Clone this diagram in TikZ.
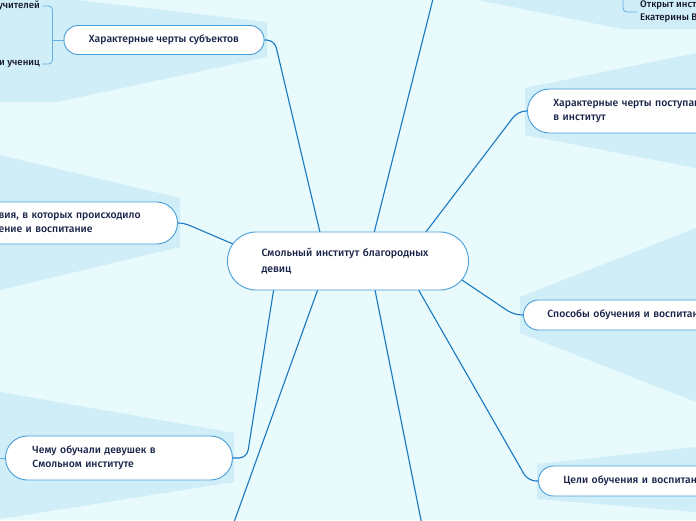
\documentclass[tikz,border=0pt]{standalone}
\usepackage{fontspec}
\setmainfont{Fira Sans}
\newfontfamily\mapfont{Fira Sans Medium}
\usepackage{tikz}
\usetikzlibrary{calc}
\pgfdeclarelayer{background}
\pgfsetlayers{background,main}
\definecolor{bgcyan}{RGB}{232,250,252}
\definecolor{shadecyan}{RGB}{207,238,248}
\definecolor{branchblue}{RGB}{25,120,190}
\definecolor{nodeblue}{RGB}{72,158,218}
\definecolor{twigblue}{RGB}{100,175,225}
\definecolor{inkblue}{RGB}{24,34,72}
\definecolor{inkdark}{RGB}{20,22,40}

\begin{document}
\begin{tikzpicture}[x=1pt,y=-1pt,
				topic/.style={draw=nodeblue,fill=white,line width=0.9pt,text=inkblue,align=left,
					inner ysep=0pt,font=\mapfont\fontsize{10.4}{14}\selectfont},
				leaf/.style={text=inkdark,align=left,inner sep=0pt,font=\mapfont\fontsize{9.6}{13}\selectfont},
				branch/.style={draw=branchblue,line width=1.1pt},
				twig/.style={draw=twigblue,line width=0.8pt}]

				\useasboundingbox (0,0) rectangle (696,520);
				\clip (0,0) rectangle (696,520);

				\node[topic,minimum width=241pt,minimum height=58pt,rounded corners=28.5pt,text width=173pt,
					inner xsep=34pt,font=\mapfont\fontsize{10.5}{16}\selectfont] (smolny) at (348,261)
					{Смольный институт благородных\\девиц};
				\node[topic,minimum width=200pt,minimum height=29pt,rounded corners=14pt] (subj) at (164,40)
					{Характерные черты субъектов};
				\node[topic,anchor=east,minimum height=42pt,rounded corners=21pt,text width=155pt,inner xsep=24pt]
					(cond) at (178,223) {вия, в которых происходило\\ение и воспитание};
				\node[topic,anchor=west,minimum height=44pt,rounded corners=22pt,text width=173pt,inner xsep=27pt]
					(chemu) at (5,458) {Чему обучали девушек в\\Смольном институте};
				\node[topic,anchor=west,minimum height=44pt,rounded corners=22pt,text width=200pt,inner xsep=26pt]
					(entrants) at (527,111) {Характерные черты поступак\\в институт};
				\node[topic,anchor=west,minimum height=30pt,rounded corners=15pt,text width=200pt,inner xsep=24pt]
					(ways) at (523,315) {Способы обучения и воспитан};
				\node[topic,anchor=west,minimum height=30pt,rounded corners=15pt,text width=200pt,inner xsep=25pt]
					(goals) at (538,481) {Цели обучения и воспитан};

				\node[leaf,anchor=east] (teachers) at (40,6) {учителей};
				\node[leaf,anchor=east] (pupils) at (40,64) {и учениц};
				\node[leaf,anchor=west] (opened) at (640,12) {Открыт инст\\Екатерины В};

				\coordinate (topend) at (434,-5);
				\coordinate (botleftend) at (233,525);
				\coordinate (botrightend) at (422,525);
				\coordinate (openbend) at (623,-5);

				\begin{pgfonlayer}{background}
					\clip (0,0) rectangle (696,520);
					\fill[bgcyan] (0,0) rectangle (696,520);
					\fill[shadecyan] (0,0) -- (77,0) -- (267,22) -- (267,57) -- (57,102) -- (0,102) -- cycle;
					\fill[shadecyan] (478,0) -- (622,29) -- (696,29) -- (696,0) -- cycle;
					\fill[shadecyan] (525,88) -- (696,53) -- (696,168) -- (525,135) -- cycle;
					\fill[shadecyan] (0,155) -- (180,198) -- (180,247) -- (0,290) -- cycle;
					\fill[shadecyan] (520,297) -- (696,228) -- (696,402) -- (520,333) -- cycle;
					\fill[shadecyan] (537,464) -- (696,447) -- (696,512) -- (537,499) -- cycle;
					\fill[shadecyan] (0,392) -- (234,433) -- (234,482) -- (0,519) -- cycle;

					\draw[branch] (topend) -- ($(smolny.center)+(23,-16)$);
					\draw[branch] (botleftend) -- ($(smolny.center)+(-25,14)$);
					\draw[branch] (botrightend) -- ($(smolny.center)+(24,14)$);
					\draw[branch,rounded corners=8pt] (subj.east) -- ++(10,0) -- ($(smolny.center)+(-25,-16)$);
					\draw[branch,rounded corners=8pt] (entrants.west) -- ++(-9,0) -- ($(smolny.center)+(68,-16)$);
					\draw[branch,rounded corners=8pt] (ways.west) -- ++(-9,0) -- ($(smolny.center)+(102,11)$);
					\draw[branch,rounded corners=8pt] (goals.west) -- ++(-10,0) -- ($(smolny.center)+(62,14)$);
					\draw[branch,rounded corners=8pt] (chemu.east) -- ++(14,0) -- ($(smolny.center)+(-72,14)$);
					\draw[branch,rounded corners=6pt] (cond.east) -- ++(6,0) -- ($(smolny.center)+(-108,-14)$);

					\draw[twig,rounded corners=4pt] (teachers.east) ++(2,0) -| ($(subj.west)+(-11,0)$) |- ($(pupils.east)+(2,0)$);
					\draw[twig] (subj.west) -- ++(-11,0);
					\draw[twig] (chemu.west) -- ++(-10,0);
					\draw[twig,rounded corners=4pt] (openbend) |- ($(opened.west)+(-3,0)$);
				\end{pgfonlayer}

			\end{tikzpicture}
\end{document}
